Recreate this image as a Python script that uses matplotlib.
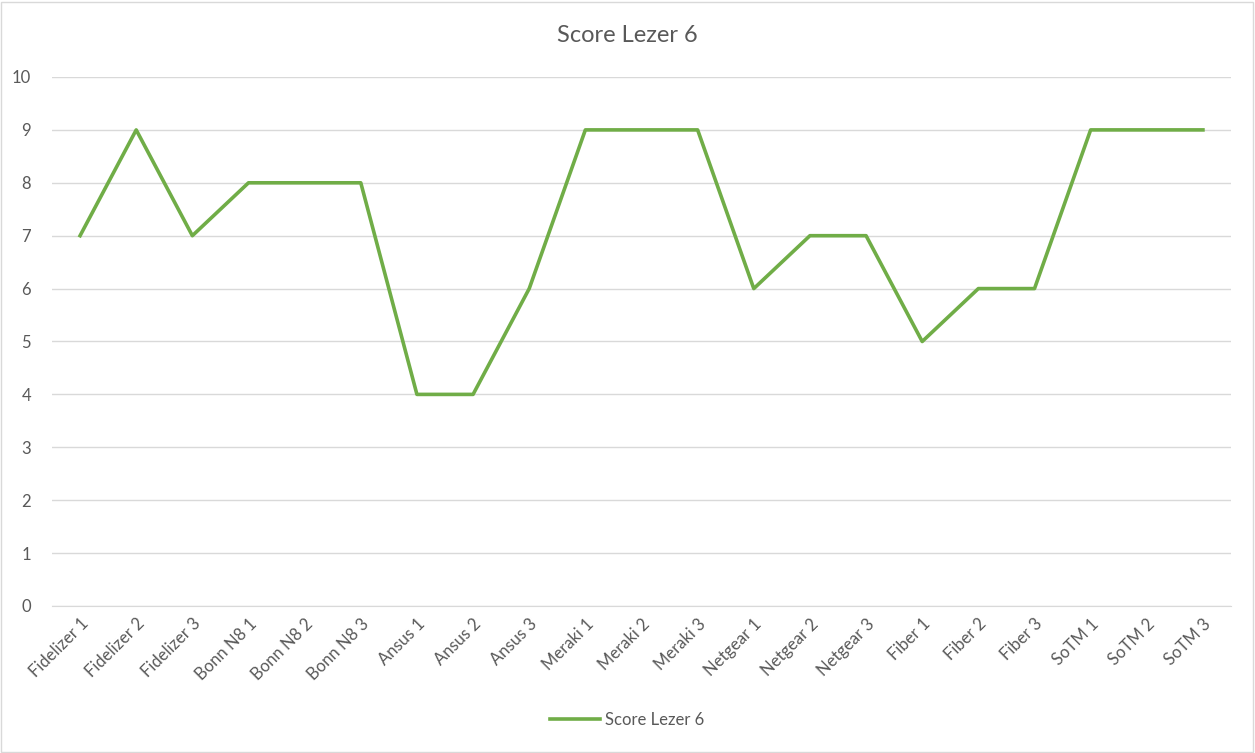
import matplotlib.pyplot as plt
from matplotlib.patches import Rectangle

categorias = ["Fidelizer 1", "Fidelizer 2", "Fidelizer 3", "Bonn N8 1", "Bonn N8 2", "Bonn N8 3",
              "Ansus 1", "Ansus 2", "Ansus 3", "Meraki 1", "Meraki 2", "Meraki 3",
              "Netgear 1", "Netgear 2", "Netgear 3", "Fiber 1", "Fiber 2", "Fiber 3",
              "SoTM 1", "SoTM 2", "SoTM 3"]
score = [7, 9, 7, 8, 8, 8, 4, 4, 6, 9, 9, 9, 6, 7, 7, 5, 6, 6, 9, 9, 9]
yticks = [0, 1, 2, 3, 4, 5, 6, 7, 8, 9, 10]

plt.rcParams['font.family'] = ['Lato', 'DejaVu Sans']

fig = plt.figure(figsize=(12.55, 7.53), dpi=100)
ax = fig.add_axes([52 / 1255, 1 - 606 / 753, (1231 - 52) / 1255, (606 - 77) / 753])

x = list(range(len(categorias)))
ax.plot(x, score, color='#70AD47', linewidth=2.6, label='Score Lezer 6')

ax.set_xlim(-0.5, len(categorias) - 0.5)
ax.set_ylim(0, 10)
ax.set_yticks(yticks)
ax.set_xticks(x)
ax.set_xticklabels(categorias, rotation=45, ha='right', rotation_mode='anchor')
ax.tick_params(axis='both', length=0, labelsize=12, colors='#595959')
ax.tick_params(axis='x', pad=7)
ax.tick_params(axis='y', pad=15)
ax.grid(axis='y', color='#D9D9D9', linewidth=1)
ax.set_axisbelow(True)
for s in ['top', 'right', 'left']:
    ax.spines[s].set_visible(False)
ax.spines['bottom'].set_color('#D9D9D9')

fig.text(0.5, 1 - 36 / 753, 'Score Lezer 6', ha='center', va='center', fontsize=17, color='#595959')

fig.legend(loc='center', bbox_to_anchor=(0.5, 1 - 720 / 753), frameon=False,
           fontsize=12, labelcolor='#595959', handlelength=3.0, handletextpad=0.3)

fig.patches.append(Rectangle((0.0008, 0.001), 0.998, 0.997, transform=fig.transFigure,
                             fill=False, edgecolor='#D9D9D9', linewidth=1))

fig.savefig('out.png', dpi=100, facecolor='white')
